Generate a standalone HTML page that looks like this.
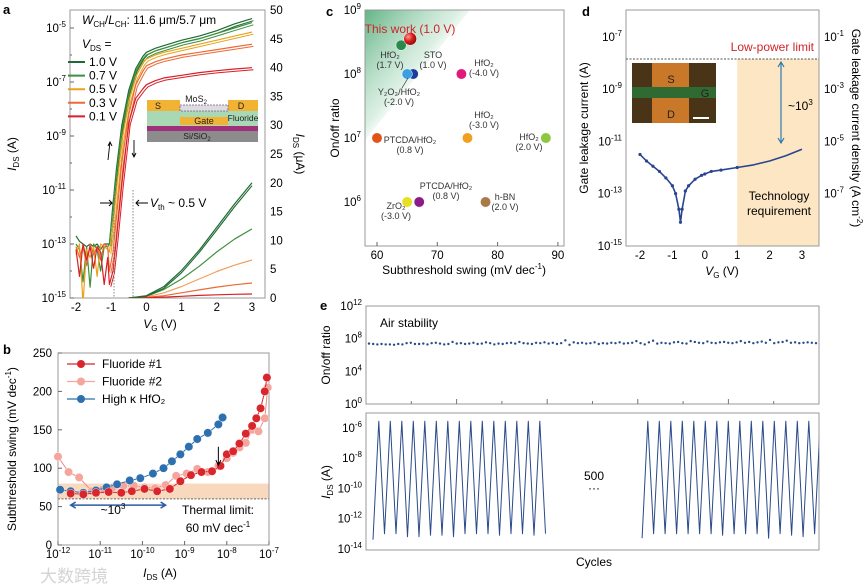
<!DOCTYPE html>
<html><head><meta charset="utf-8"><style>
html,body{margin:0;padding:0;background:#fff;}
svg{display:block;font-family:"Liberation Sans","Noto Sans CJK SC",sans-serif;}
</style></head><body>
<svg id="fig" width="865" height="586" viewBox="0 0 865 586" xmlns="http://www.w3.org/2000/svg">
<defs>
<linearGradient id="gC" x1="0" y1="0" x2="1" y2="1"><stop offset="0" stop-color="#2e9a5c" stop-opacity="0.75"/><stop offset="0.45" stop-color="#b8e0c8" stop-opacity="0.5"/><stop offset="0.6" stop-color="#fff" stop-opacity="0"/></linearGradient>
<radialGradient id="gR" cx="0.35" cy="0.35" r="0.7"><stop offset="0" stop-color="#ff9a9a"/><stop offset="0.5" stop-color="#d81e1e"/><stop offset="1" stop-color="#8a0a0a"/></radialGradient>
<clipPath id="clipA"><rect x="70" y="10" width="195" height="288"/></clipPath>
<clipPath id="clipE"><rect x="366" y="413" width="453" height="137"/></clipPath>
</defs>
<g id="panelA"></g>
<g id="panelB"></g>
<g id="panelC"></g>
<g id="panelD"></g>
<g id="panelE"></g>
<text x="3" y="14" font-size="13" font-weight="bold">a</text>
<text x="3" y="354" font-size="13" font-weight="bold">b</text>
<text x="326" y="16" font-size="13" font-weight="bold">c</text>
<text x="582" y="16" font-size="13" font-weight="bold">d</text>
<text x="320" y="310" font-size="13" font-weight="bold">e</text>
<text x="40" y="582" font-size="17" fill="#d4d4d4">大数跨境</text>
</svg>
<script>
// ---------- data ----------
const aVg=[-1.05,-0.95,-0.85,-0.7,-0.5,-0.3,-0.1,0,0.25,0.5,1,1.5,2,2.5,3];
const aLog10=[-13,-11.5,-10.2,-8.6,-7.3,-6.5,-6.05,-5.9,-5.75,-5.65,-5.45,-5.3,-5.1,-4.85,-4.65];
const aLog07=[-13,-11.7,-10.4,-8.8,-7.45,-6.6,-6.15,-6.0,-5.85,-5.75,-5.55,-5.4,-5.2,-5.0,-4.8];
const aLog05=[-13.3,-12.3,-11.0,-9.2,-7.7,-6.8,-6.3,-6.15,-6.0,-5.9,-5.75,-5.6,-5.45,-5.3,-5.15];
const aLog03=[-14,-13.3,-12,-10,-8.2,-7.1,-6.6,-6.4,-6.25,-6.15,-6.0,-5.9,-5.8,-5.7,-5.6];
const aLog01=[-14.5,-14,-12.8,-10.8,-8.5,-7.6,-7.25,-7.1,-6.95,-6.85,-6.75,-6.65,-6.58,-6.52,-6.47];
const aOffVg=[-2,-1.9,-1.8,-1.7,-1.6,-1.5,-1.4,-1.3,-1.2,-1.1];
const aOff10=[-12.7,-12.9,-13.0,-13.1,-13.0,-13.1,-13.0,-13.2,-13.0,-13.0];
const aOff07=[-13.0,-13.2,-14.4,-13.1,-14.6,-13.0,-13.2,-14.0,-13.1,-13.1];
const aOff05=[-13.4,-13.0,-15.2,-13.2,-13.5,-13.1,-14.2,-13.0,-13.1,-13.2];
const aOff03=[-13.1,-13.5,-13.1,-13.8,-13.0,-13.4,-13.1,-13.6,-13.0,-13.1];
const aOff01=[-13.2,-14.2,-13.0,-13.6,-13.1,-13.9,-13.1,-13.3,-14.5,-13.5];
const aLinVg=[-0.5,0,0.5,1,1.5,2,2.5,3];
const aLin10=[0,0.4,2,4.8,8.3,12.3,16.3,20];
const aLin10b=[0,0.3,1.7,4.4,7.9,11.8,15.8,19.5];
const aLin07=[0,0.3,1.5,3.3,5.5,8,10.2,12];
const aLin05=[0,0.2,0.9,2,3.3,4.6,5.7,6.6];
const aLin03=[0,0.1,0.4,0.9,1.4,1.9,2.3,2.6];
const aLin01=[0,0.05,0.15,0.3,0.45,0.55,0.65,0.7];
const aVds=['1.0 V','0.7 V','0.5 V','0.3 V','0.1 V'];

const bLogF1=[-11.7,-11.4,-11.1,-10.8,-10.5,-10.25,-9.95,-9.65,-9.35,-9.1,-8.85,-8.6,-8.35,-8.15,-8.0,-7.85,-7.7,-7.55,-7.4,-7.3,-7.2,-7.1,-7.05];
const bSSF1=[67,66,68,69,68,70,73,70,73,83,91,95,96,103,118,122,132,145,155,165,178,200,218];
const bLogF2=[-12,-11.75,-11.5,-11.2,-10.95,-10.7,-10.45,-10.2,-9.95,-9.7,-9.45,-9.2,-8.95,-8.7,-8.45,-8.2,-8.0,-7.85,-7.7,-7.55,-7.4,-7.25,-7.1,-7.03];
const bSSF2=[115,95,88,70,72,75,77,77,75,74,78,90,93,99,95,103,113,120,127,133,150,148,165,205];
const bLogHf=[-11.95,-11.7,-11.4,-11.1,-10.85,-10.6,-10.3,-10.05,-9.75,-9.5,-9.3,-9.1,-8.9,-8.7,-8.45,-8.2,-8.1];
const bSSHf=[72,70,68,71,75,79,84,87,93,100,109,118,128,138,146,157,166];

const cNames=['This work','HfO2 1.7V','Y2O3/HfO2','STO','HfO2 -4V','PTCDA/HfO2 0.8V','HfO2 -3V','HfO2 2V','ZrO2','PTCDA/HfO2 b','h-BN'];
const cSS=[65.5,64,65,66,74,60,75,88,65,67,78];
const cRatioLog=[8.55,8.45,8.0,8.0,8.0,7.0,7.0,7.0,6.0,6.0,6.0];
const cColors=['url(#gR)','#2a8a4a','#3aa0e0','#1a3d9c','#e0197c','#e0541a','#f0a020','#8dc63f','#e6e020','#8b1a8b','#a87a4a'];

const dVg=[-2,-1.8,-1.6,-1.4,-1.2,-1.0,-0.9,-0.8,-0.75,-0.7,-0.6,-0.5,-0.3,-0.1,0,0.2,0.5,1,1.5,2,2.5,3];
const dLog=[-11.5,-11.75,-11.95,-12.15,-12.4,-12.7,-13.0,-13.6,-14.1,-13.6,-12.9,-12.7,-12.45,-12.3,-12.25,-12.15,-12.1,-12.0,-11.9,-11.75,-11.55,-11.3];

const eRatio=[7.4,7.35,7.3,7.35,7.3,7.3,7.25,7.35,7.3,7.45,7.5,7.35,7.35,7.4,7.3,7.45,7.5,7.4,7.3,7.35,7.6,7.4,7.45,7.35,7.4,7.5,7.35,7.4,7.55,7.45,7.3,7.4,7.35,7.45,7.5,7.4,7.6,7.45,7.4,7.35,7.5,7.45,7.55,7.4,7.5,7.35,7.45,7.8,7.25,7.55,7.45,7.5,7.4,7.45,7.55,7.35,7.45,7.4,7.5,7.45,7.55,7.4,7.45,7.5,7.7,7.45,7.3,7.55,7.75,7.4,7.5,7.45,7.4,7.55,7.6,7.45,7.4,7.7,7.6,7.5,7.45,7.65,7.5,7.45,7.55,7.6,7.5,7.45,7.55,7.7,7.5,7.6,7.45,7.55,7.65,7.5,7.85,7.45,7.55,7.6,7.75,7.5,7.55,7.45,7.5,7.55,7.5,7.45];
const eG1Peaks=[-5.55,-5.55,-5.55,-5.55,-5.55,-5.55,-5.55,-5.55,-5.55,-5.55,-5.55,-5.55,-5.55,-5.55,-5.55];
const eG1Lows=[-13.4,-13.0,-13.0,-13.2,-13.2,-13.1,-13.1,-13.2,-13.0,-13.0,-13.0,-13.1,-13.0,-13.0,-13.1,-13.0];
const eG2Peaks=[-5.55,-5.55,-5.55,-5.55,-5.55,-5.55,-5.55,-5.55,-5.55,-5.55,-5.55,-5.55,-5.55,-5.55,-5.55,-5.55];
const eG2Lows=[-13.3,-13.0,-13.0,-13.0,-13.0,-13.0,-13.0,-13.1,-13.0,-13.0,-13.0,-13.3,-13.0,-13.1,-13.2,-13.0,-10.0];

// ---------- helpers ----------
const NS='http://www.w3.org/2000/svg';
function mk(tag,a,parent){const e=document.createElementNS(NS,tag);for(const k in a)e.setAttribute(k,a[k]);parent.appendChild(e);return e;}
function pw(e){return '10<tspan dy="-5" font-size="8">'+e+'</tspan>';}
function poly(pts,parent,stroke,w,extra){const e=mk('polyline',Object.assign({points:pts.map(p=>p[0].toFixed(1)+','+p[1].toFixed(1)).join(' '),fill:'none',stroke:stroke,'stroke-width':w,'stroke-linejoin':'round'},extra||{}),parent);return e;}

// ---------- panel a ----------
const A=document.getElementById('panelA');
const xa=v=>76+(v+2)*35.2, yaL=l=>28+(-5-l)*27, yaR=u=>298-u*5.76;
let el;
el=mk('rect',{x:70,y:10,width:195,height:288,fill:'none',stroke:'#999','stroke-width':1},A);


for(let e=-5;e>=-15;e-=2){
  el=mk('text',{x:66,y:yaL(e)+4,'font-size':11.5,'text-anchor':'end'},A);el.innerHTML=pw(e);
  
  
}
for(let e=-5;e>=-15;e--){el=mk('line',{x1:70,x2:e%2?74:72,y1:yaL(e),y2:yaL(e),stroke:'#666'},A);
  
  }
for(let u=0;u<=50;u+=5){el=mk('text',{x:270,y:yaR(u)+4,'font-size':11.5},A);el.textContent=u;
  
  }
for(let v=-2;v<=3;v++){el=mk('text',{x:xa(v),y:311,'font-size':11.5,'text-anchor':'middle'},A);el.textContent=v;
  
  }
el=mk('text',{x:160,y:328,'font-size':12,'text-anchor':'middle'},A);el.innerHTML='<tspan font-style="italic">V</tspan><tspan font-size="8" dy="3">G</tspan><tspan dy="-3"> (V)</tspan>';


el=mk('text',{x:0,y:0,'font-size':12,'text-anchor':'middle',transform:'translate(16,154) rotate(-90)'},A);el.innerHTML='<tspan font-style="italic">I</tspan><tspan font-size="8" dy="3">DS</tspan><tspan dy="-3"> (A)</tspan>';


el=mk('text',{x:0,y:0,'font-size':12,'text-anchor':'middle',transform:'translate(296,154) rotate(90)'},A);el.innerHTML='<tspan font-style="italic">I</tspan><tspan font-size="8" dy="3">DS</tspan><tspan dy="-3"> (μA)</tspan>';


const aCols=['#1d6a32','#3d8f3d','#eaa21a','#ec6a36','#d81f26'];
const aLogs=[aLog10,aLog07,aLog05,aLog03,aLog01], aOffs=[aOff10,aOff07,aOff05,aOff03,aOff01];
const aLins=[aLin10,aLin07,aLin05,aLin03,aLin01];
const ga=mk('g',{'clip-path':'url(#clipA)'},A);
for(let s=0;s<5;s++){
  const pts=[];
  aOffVg.forEach((v,i)=>pts.push([xa(v),yaL(Math.max(aOffs[s][i],-15.3))]));
  aVg.forEach((v,i)=>pts.push([xa(v),yaL(aLogs[s][i])]));
  el=poly(pts,ga,aCols[s],1.2);
  
  
  const pts2=aVg.map((v,i)=>[xa(v+0.04),yaL(aLogs[s][i]-0.08)]);
  el=poly(pts2,ga,aCols[s],1);
  
  
  const lp=aLinVg.map((v,i)=>[xa(v),yaR(aLins[s][i])]);
  el=poly(lp,ga,s==2?'#f0a060':aCols[s],1.2);
  
  
}
el=poly(aLinVg.map((v,i)=>[xa(v),yaR(aLin10b[i])]),ga,aCols[0],1.1);


// legend a
el=mk('text',{x:82,y:24,'font-size':12},A);el.innerHTML='<tspan font-style="italic">W</tspan><tspan font-size="8" dy="3">CH</tspan><tspan dy="-3">/</tspan><tspan font-style="italic">L</tspan><tspan font-size="8" dy="3">CH</tspan><tspan dy="-3">: 11.6 μm/5.7 μm</tspan>';


el=mk('text',{x:82,y:48,'font-size':12},A);el.innerHTML='<tspan font-style="italic">V</tspan><tspan font-size="8" dy="3">DS</tspan><tspan dy="-3"> =</tspan>';


for(let s=0;s<5;s++){
  const y=62+s*13.6;
  el=mk('line',{x1:68,x2:85,y1:y,y2:y,stroke:aCols[s],'stroke-width':2},A);
  
  
  el=mk('text',{x:89,y:y+4,'font-size':12},A);el.textContent=aVds[s];
  
  
}
// inset schematic
const inset=mk('g',{},A);


mk('rect',{x:147,y:131,width:111,height:11,fill:'#8c8c8c'},inset);
mk('rect',{x:147,y:126,width:111,height:5,fill:'#a0307a'},inset);
mk('rect',{x:147,y:111,width:111,height:15,fill:'#a8d8b4'},inset);
mk('rect',{x:180,y:117,width:48,height:8,fill:'#f2b233'},inset);
mk('rect',{x:147,y:100,width:33,height:11,fill:'#f2b233'},inset);
mk('rect',{x:228,y:100,width:30,height:11,fill:'#f2b233'},inset);
mk('rect',{x:180,y:105,width:48,height:6,fill:'#ddd',stroke:'#7a5a9a','stroke-width':0.8,'stroke-dasharray':'2 1'},inset);
[['S',158,109],['D',241,109],['Gate',204,124],['Fluoride',243,121],['Si/SiO',197,139],['MoS',196,102]].forEach(t=>{el=mk('text',{x:t[1],y:t[2],'font-size':t[0].length>4?8.5:9,'text-anchor':'middle',fill:'#222'},inset);el.innerHTML=t[0]+(t[0]=='Si/SiO'||t[0]=='MoS'?'<tspan font-size="6" dy="2">2</tspan>':'');});
// Vth annotation
[114,133].forEach(x=>{el=mk('line',{x1:x,x2:x,y1:190,y2:298,stroke:'#888','stroke-dasharray':'1.5 1.5'},A);
  
  });
el=mk('path',{d:'M100,203 L112,203 M109,200 L112,203 L109,206 M148,203 L136,203 M139,200 L136,203 L139,206',stroke:'#000',fill:'none','stroke-width':1},A);


el=mk('text',{x:150,y:207,'font-size':12},A);el.innerHTML='<tspan font-style="italic">V</tspan><tspan font-size="8" dy="3">th</tspan><tspan dy="-3"> ~ 0.5 V</tspan>';


el=mk('path',{d:'M108,160 L110,142 M108,146 L110,142 L112,146 M134,140 L134,157 M132,153 L134,157 L136,153',stroke:'#000',fill:'none','stroke-width':0.9},A);



// ---------- panel b ----------
const B=document.getElementById('panelB');
const xb=l=>58+(l+12)*42.2, yb=s=>545-s*0.768;
el=mk('rect',{x:58,y:yb(80),width:211,height:yb(60)-yb(80),fill:'#f9d9bd'},B);


el=mk('line',{x1:58,x2:269,y1:yb(60),y2:yb(60),stroke:'#666','stroke-dasharray':'2 1.5'},B);


el=mk('rect',{x:58,y:353,width:211,height:192,fill:'none',stroke:'#999'},B);


for(let s=0;s<=250;s+=50){el=mk('text',{x:52,y:yb(s)+4,'font-size':11.5,'text-anchor':'end'},B);el.textContent=s;
  
  
  el=mk('line',{x1:58,x2:62,y1:yb(s),y2:yb(s),stroke:'#666'},B);
  
  }
for(let e=-12;e<=-7;e++){el=mk('text',{x:xb(e),y:558,'font-size':11.5,'text-anchor':'middle'},B);el.innerHTML=pw(e);
  
  
  el=mk('line',{x1:xb(e),x2:xb(e),y1:545,y2:541,stroke:'#666'},B);
  
  }
el=mk('text',{x:160,y:577,'font-size':12,'text-anchor':'middle'},B);el.innerHTML='<tspan font-style="italic">I</tspan><tspan font-size="8" dy="3">DS</tspan><tspan dy="-3"> (A)</tspan>';


el=mk('text',{x:0,y:0,'font-size':12,'text-anchor':'middle',transform:'translate(16,449) rotate(-90)'},B);el.innerHTML='Subthreshold swing (mV dec<tspan font-size="8" dy="-5">-1</tspan><tspan dy="5">)</tspan>';


const bSeries=[[bLogF2,bSSF2,'#ef8a80','#f4a59c','fluoride-2'],[bLogHf,bSSHf,'#2e6fb0','#2e6fb0','high-k-hfo2'],[bLogF1,bSSF1,'#d9262c','#d9262c','fluoride-1']];
bSeries.forEach(S=>{
  el=poly(S[0].map((l,i)=>[xb(l),yb(S[1][i])]),B,S[2],1);
  
  
  S[0].forEach((l,i)=>{el=mk('circle',{cx:xb(l),cy:yb(S[1][i]),r:4.2,fill:S[3],stroke:'#fff','stroke-width':0.4},B);
    
    });
});
const bLeg=[['Fluoride #1','#d9262c'],['Fluoride #2','#f4a59c'],['High κ HfO₂','#2e6fb0']];
bLeg.forEach((t,i)=>{const y=364+i*17.5;
  el=mk('line',{x1:67,x2:95,y1:y,y2:y,stroke:t[1],'stroke-width':1.2},B);
  
  
  el=mk('circle',{cx:81,cy:y,r:4,fill:t[1]},B);
  
  
  el=mk('text',{x:102,y:y+4,'font-size':12},B);el.textContent=t[0];
  
  });
el=mk('path',{d:'M'+xb(-11.7)+','+yb(52)+' L'+xb(-9.45)+','+yb(52)+' M'+(xb(-11.7)+5)+','+(yb(52)-3)+' L'+xb(-11.7)+','+yb(52)+' L'+(xb(-11.7)+5)+','+(yb(52)+3)+' M'+(xb(-9.45)-5)+','+(yb(52)-3)+' L'+xb(-9.45)+','+yb(52)+' L'+(xb(-9.45)-5)+','+(yb(52)+3),stroke:'#2e5aa8','stroke-width':1.5,fill:'none'},B);


el=mk('text',{x:113,y:514,'font-size':12,'text-anchor':'middle'},B);el.innerHTML='~10<tspan font-size="8" dy="-5">3</tspan>';


el=mk('text',{x:218,y:514,'font-size':12,'text-anchor':'middle'},B);el.textContent='Thermal limit:';


el=mk('text',{x:218,y:532,'font-size':12,'text-anchor':'middle'},B);el.innerHTML='60 mV dec<tspan font-size="8" dy="-5">-1</tspan>';


el=mk('path',{d:'M'+xb(-8.2)+','+yb(128)+' L'+xb(-8.2)+','+yb(104)+' M'+(xb(-8.2)-2.5)+','+(yb(104)-5)+' L'+xb(-8.2)+','+yb(104)+' L'+(xb(-8.2)+2.5)+','+(yb(104)-5),stroke:'#000',fill:'none'},B);



// ---------- panel c ----------
const C=document.getElementById('panelC');
const xc=s=>377+(s-60)*6.03, yc=l=>10+(9-l)*64;
el=mk('path',{d:'M365,10 L470,10 L365,140 Z',fill:'url(#gC)'},C);


el=mk('rect',{x:365,y:10,width:199,height:236,fill:'none',stroke:'#999'},C);


for(let e=9;e>=6;e--){el=mk('text',{x:361,y:yc(e)+4,'font-size':11.5,'text-anchor':'end'},C);el.innerHTML=pw(e);
  
  }
for(let s=60;s<=90;s+=10){el=mk('text',{x:xc(s),y:259,'font-size':11.5,'text-anchor':'middle'},C);el.textContent=s;
  
  
  el=mk('line',{x1:xc(s),x2:xc(s),y1:246,y2:242,stroke:'#666'},C);
  
  }
el=mk('text',{x:464,y:274,'font-size':12,'text-anchor':'middle'},C);el.innerHTML='Subthreshold swing (mV dec<tspan font-size="8" dy="-5">-1</tspan><tspan dy="5">)</tspan>';


el=mk('text',{x:0,y:0,'font-size':12,'text-anchor':'middle',transform:'translate(339,128) rotate(-90)'},C);el.textContent='On/off ratio';


for(let i=cSS.length-1;i>=0;i--){
  el=mk('circle',{cx:xc(cSS[i]),cy:yc(cRatioLog[i]),r:i==0?6.5:5.2,fill:cColors[i],stroke:'#fff','stroke-width':0.5},C);
  
  
}
const cLabels=[['HfO₂','(1.7 V)',390,58],['STO','(1.0 V)',433,58],['HfO₂','(-4.0 V)',484,66],['Y₂O₃/HfO₂','(-2.0 V)',399,95],['HfO₂','(-3.0 V)',484,118],['PTCDA/HfO₂','(0.8 V)',410,143],['HfO₂','(2.0 V)',529,140],['PTCDA/HfO₂','(0.8 V)',446,189],['ZrO₂','(-3.0 V)',396,209],['h-BN','(2.0 V)',505,200]];
cLabels.forEach(t=>{el=mk('text',{x:t[2],y:t[3],'font-size':9,'text-anchor':'middle',fill:'#333'},C);
  el.innerHTML=t[0]+'<tspan x="'+t[2]+'" dy="10">'+t[1]+'</tspan>';
  
  });
el=mk('line',{x1:402,y1:88,x2:408,y2:78,stroke:'#333','stroke-width':0.7},C);


el=mk('text',{x:410,y:33,'font-size':12,'text-anchor':'middle',fill:'#d0242a'},C);el.textContent='This work (1.0 V)';



// ---------- panel d ----------
const D=document.getElementById('panelD');
const xd=v=>640+(v+2)*32.4, yd=l=>37+(-7-l)*26.1;
el=mk('rect',{x:xd(1),y:59,width:819-xd(1),height:187,fill:'#fde6c4'},D);


el=mk('rect',{x:626,y:10,width:193,height:236,fill:'none',stroke:'#999'},D);


el=mk('line',{x1:626,x2:819,y1:59,y2:59,stroke:'#555','stroke-dasharray':'2 1.5'},D);


for(let e=-7;e>=-15;e-=2){el=mk('text',{x:622,y:yd(e)+4,'font-size':11.5,'text-anchor':'end'},D);el.innerHTML=pw(e);
  
  }
for(let e=-1;e>=-7;e-=2){el=mk('text',{x:824,y:yd(e-6)+4,'font-size':11.5},D);el.innerHTML=pw(e);
  
  }
for(let v=-2;v<=3;v++){el=mk('text',{x:xd(v),y:259,'font-size':11.5,'text-anchor':'middle'},D);el.textContent=v;
  
  }
el=mk('text',{x:722,y:275,'font-size':12,'text-anchor':'middle'},D);el.innerHTML='<tspan font-style="italic">V</tspan><tspan font-size="8" dy="3">G</tspan><tspan dy="-3"> (V)</tspan>';


el=mk('text',{x:0,y:0,'font-size':12,'text-anchor':'middle',transform:'translate(588,128) rotate(-90)'},D);el.textContent='Gate leakage current (A)';


el=mk('text',{x:0,y:0,'font-size':12,'text-anchor':'middle',transform:'translate(852,128) rotate(90)'},D);el.innerHTML='Gate leakage current density (A cm<tspan font-size="8" dy="-5">-2</tspan><tspan dy="5">)</tspan>';


el=poly(dVg.map((v,i)=>[xd(v),yd(dLog[i])]),D,'#2a4590',1.6);


dVg.forEach((v,i)=>{if(v>1)return;el=mk('circle',{cx:xd(v),cy:yd(dLog[i]),r:1.6,fill:'#2a4590'},D);
  
  });
el=mk('path',{d:'M781,62 L781,143 M778,67 L781,62 L784,67 M778,138 L781,143 L784,138',stroke:'#2a7ab0','stroke-width':1.2,fill:'none'},D);


el=mk('text',{x:788,y:110,'font-size':12},D);el.innerHTML='~10<tspan font-size="8" dy="-5">3</tspan>';


el=mk('text',{x:814,y:51,'font-size':12,'text-anchor':'end',fill:'#d0242a'},D);el.textContent='Low-power limit';


el=mk('text',{x:779,y:200,'font-size':12,'text-anchor':'middle'},D);el.innerHTML='Technology<tspan x="779" dy="15">requirement</tspan>';


const ins=mk('g',{},D);


mk('rect',{x:632,y:63,width:84,height:60,fill:'#4a3418'},ins);
mk('rect',{x:652,y:63,width:37,height:60,fill:'#c9782a'},ins);
mk('rect',{x:632,y:87,width:84,height:11,fill:'#2f6a32'},ins);
mk('text',{x:671,y:83,'font-size':11,'text-anchor':'middle',fill:'#222'},ins).textContent='S';
mk('text',{x:671,y:118,'font-size':11,'text-anchor':'middle',fill:'#222'},ins).textContent='D';
mk('text',{x:705,y:97,'font-size':11,'text-anchor':'middle',fill:'#222'},ins).textContent='G';
mk('rect',{x:693,y:117,width:16,height:2,fill:'#fff'},ins);

// ---------- panel e ----------
const E=document.getElementById('panelE');
const ye1=l=>306+(12-l)*8.17, ye2=l=>428+(-6-l)*15.1;
const xeDot=i=>369+i*(447/(eRatio.length-1));
const xeH=h=>373+h*5.75;
el=mk('rect',{x:366,y:306,width:453,height:98,fill:'none',stroke:'#999'},E);


el=mk('rect',{x:366,y:413,width:453,height:137,fill:'none',stroke:'#999'},E);


[12,8,4,0].forEach(e=>{el=mk('text',{x:362,y:ye1(e)+4,'font-size':11.5,'text-anchor':'end'},E);el.innerHTML=pw(e);
  
  });
[-6,-8,-10,-12,-14].forEach(e=>{el=mk('text',{x:362,y:ye2(e)+4,'font-size':11.5,'text-anchor':'end'},E);el.innerHTML=pw(e);
  
  });
for(let k=1;k<10;k++){el=mk('line',{x1:366+k*45.3,x2:366+k*45.3,y1:404,y2:k%2?401:399,stroke:'#777'},E);
  
  }
el=mk('text',{x:0,y:0,'font-size':12,'text-anchor':'middle',transform:'translate(330,355) rotate(-90)'},E);el.textContent='On/off ratio';


el=mk('text',{x:0,y:0,'font-size':12,'text-anchor':'middle',transform:'translate(330,482) rotate(-90)'},E);el.innerHTML='<tspan font-style="italic">I</tspan><tspan font-size="8" dy="3">DS</tspan><tspan dy="-3"> (A)</tspan>';


el=mk('text',{x:380,y:327,'font-size':12},E);el.textContent='Air stability';


eRatio.forEach((v,i)=>{el=mk('circle',{cx:xeDot(i),cy:ye1(v),r:1.2,fill:'#2a4a8a'},E);
  
  });
const ge=mk('g',{'clip-path':'url(#clipE)'},E);
function zig(lows,peaks,h0){const pts=[];for(let i=0;i<lows.length;i++){pts.push([xeH(h0+2*i),ye2(lows[i])]);if(i<peaks.length)pts.push([xeH(h0+2*i+1),ye2(peaks[i])]);}return pts;}
el=poly(zig(eG1Lows,eG1Peaks,0),ge,'#2a4a8a',1);


el=poly(zig(eG2Lows,eG2Peaks,46.8),ge,'#2a4a8a',1);


el=mk('text',{x:594,y:480,'font-size':12,'text-anchor':'middle'},E);el.textContent='500';


el=mk('text',{x:594,y:492,'font-size':12,'text-anchor':'middle'},E);el.textContent='···';


el=mk('text',{x:594,y:566,'font-size':12,'text-anchor':'middle'},E);el.textContent='Cycles';


</script>
</body></html>
